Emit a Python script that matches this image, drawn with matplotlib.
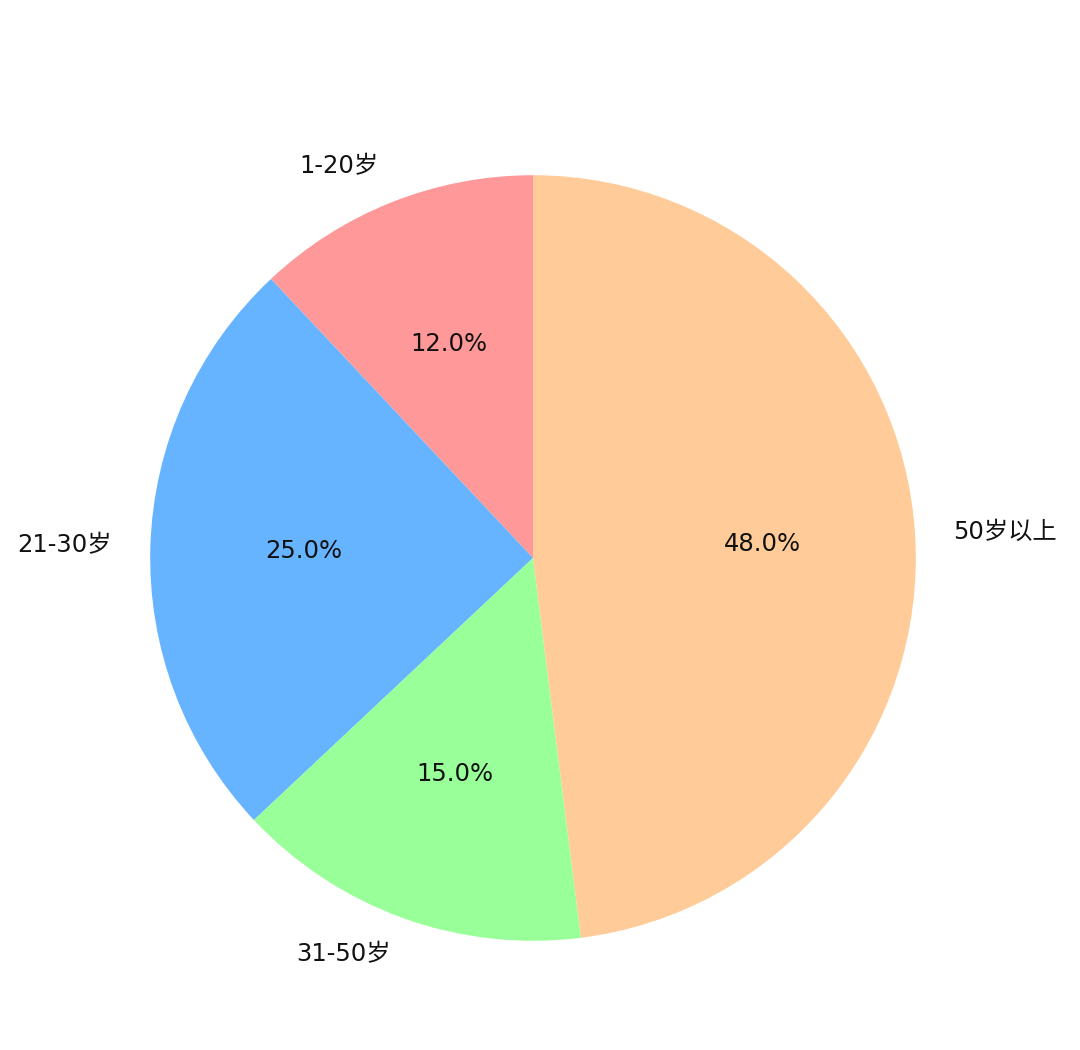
import matplotlib
matplotlib.use("Agg")
import matplotlib.pyplot as plt

plt.rcParams['font.family'] = ['DejaVu Sans', 'Noto Sans CJK SC']

labels = ['1-20岁', '21-30岁', '31-50岁', '50岁以上']
values = [12, 25, 15, 48]
colors = ['#ff9999', '#66b3ff', '#99ff99', '#ffcc99']

fig = plt.figure(figsize=(10.8, 10.5), dpi=100)
ax = fig.add_axes([54.5/1080, 13.5/1050, 957/1080, 957/1050])
ax.pie(values, labels=labels, colors=colors, autopct='%1.1f%%', startangle=90,
       textprops={'fontsize': 17.5, 'color': '#111111'})
ax.set_aspect('equal')
fig.savefig('out.png', dpi=100, facecolor='white')
